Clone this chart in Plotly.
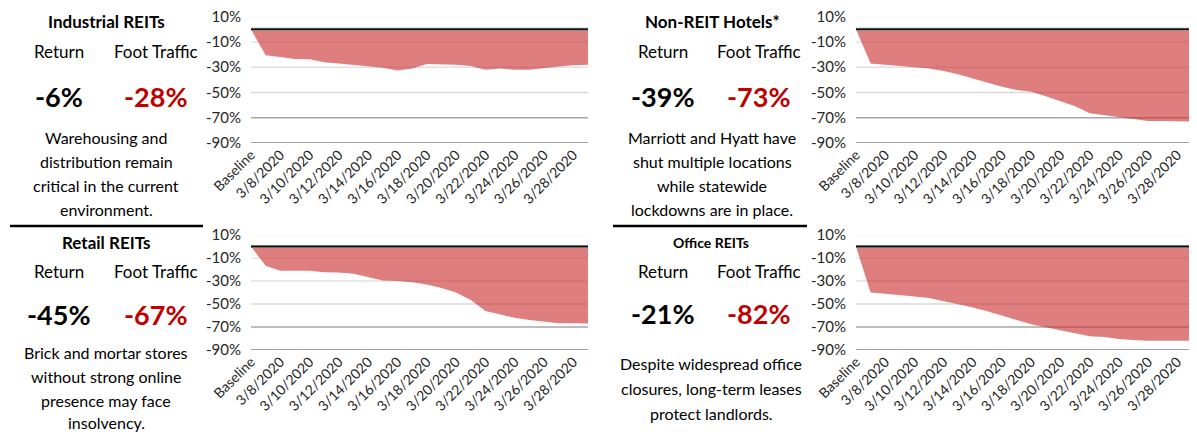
import plotly.graph_objects as go

# ---------------- data ----------------
dates = ["Baseline", "3/7/2020", "3/8/2020", "3/9/2020", "3/10/2020", "3/11/2020",
         "3/12/2020", "3/13/2020", "3/14/2020", "3/15/2020", "3/16/2020", "3/17/2020",
         "3/18/2020", "3/19/2020", "3/20/2020", "3/21/2020", "3/22/2020", "3/23/2020",
         "3/24/2020", "3/25/2020", "3/26/2020", "3/27/2020", "3/28/2020", "3/29/2020"]
tick_labels = ["Baseline", "3/8/2020", "3/10/2020", "3/12/2020", "3/14/2020", "3/16/2020",
               "3/18/2020", "3/20/2020", "3/22/2020", "3/24/2020", "3/26/2020", "3/28/2020"]

industrial = [0, -20.5, -22, -23.5, -23.7, -26, -27, -28, -29, -30.5, -32.6, -31,
              -27.5, -27.5, -28, -29, -32, -31, -32, -32, -30.5, -29.5, -28.4, -28]
hotels = [0, -27, -28, -29, -29.5, -31, -33, -35.5, -39, -42.5, -45.5, -48,
          -49.5, -53, -57, -61, -66.5, -68, -70, -71, -72.5, -72.5, -72.5, -73]
retail = [0, -16.7, -21, -21, -21, -22.4, -22.7, -23.8, -27, -29.6, -29.9, -31,
          -33, -36, -40, -46.5, -56, -59, -62, -64, -65.5, -66.7, -66.7, -67]
office = [0, -40, -41, -42, -43.4, -44.8, -47.4, -50, -53, -56.3, -60.3, -64,
          -67.5, -70, -73, -75.6, -78, -78.7, -80.5, -81.3, -82, -82, -82, -82]

y_ticks = [10, -10, -30, -50, -70, -90]

panels = [
    dict(title="Industrial REITs", ret="-6%", foot="-28%", series=industrial,
         desc=["Warehousing and", "distribution remain", "critical in the current", "environment."]),
    dict(title="Non-REIT Hotels*", ret="-39%", foot="-73%", series=hotels,
         desc=["Marriott and Hyatt have", "shut multiple locations", "while statewide", "lockdowns are in place."]),
    dict(title="Retail REITs", ret="-45%", foot="-67%", series=retail,
         desc=["Brick and mortar stores", "without strong online", "presence may face", "insolvency."]),
    dict(title="Office REITs", ret="-21%", foot="-82%", series=office,
         desc=["Despite widespread office", "closures, long-term leases", "protect landlords."]),
]

# ---------------- layout geometry (page pixels; page has 8px body margin) ----------------
OFF = 8
W, H = 1197 - OFF, 432 - OFF
FONT = "Lato"
RED = "#C00000"

def px_x(x):
    return (x - OFF) / W

def px_y(y):
    return 1 - (y - OFF) / H

plot_x = [(251, 588), (856, 1192), (251, 588), (856, 1192)]
plot_y = [(16.7, 143), (16.7, 143), (235, 350), (235, 350)]
text_cx = [(59, 156, 106), (663, 759, 712), (59, 156, 106), (663, 759, 711)]
title_y = [21, 21, 243, 242]
title_size = [17, 17, 17, 14]
head_y = [52, 52, 271, 271]
big_y = [97, 97, 314, 313]
desc_y = [[137, 161, 185, 210], [137, 161, 186, 210], [352, 376, 400, 422], [363, 388, 413]]

fig = go.Figure()
annotations = []
shapes = []
grid_colors = {10: "#f2f2f2", -10: "#e4e4e4", -30: "#e0e0e0", -50: "#d9d9d9", -70: "#a6a6a6", -90: "#808080"}

for i, p in enumerate(panels):
    n = i + 1
    xa = "x" if n == 1 else f"x{n}"
    ya = "y" if n == 1 else f"y{n}"
    fig.add_trace(go.Scatter(
        x=dates, y=p["series"], mode="lines", fill="tozeroy",
        fillcolor="rgba(200,40,40,0.6)", line=dict(width=0, color="rgba(200,40,40,0.6)"),
        xaxis=xa, yaxis=ya, showlegend=False, hoverinfo="x+y"))
    xkey = "xaxis" if n == 1 else f"xaxis{n}"
    ykey = "yaxis" if n == 1 else f"yaxis{n}"
    fig.update_layout(**{
        xkey: dict(domain=[px_x(plot_x[i][0]), px_x(plot_x[i][1])], anchor=ya,
                   type="category", categoryorder="array", categoryarray=dates,
                   range=[0, len(dates) - 1], tickmode="array", automargin=False,
                   tickvals=tick_labels, ticktext=tick_labels, tickangle=-45,
                   ticklabeloverflow="allow",
                   showgrid=False, zeroline=False, showline=False, ticks="",
                   tickfont=dict(family=FONT, size=14, color="#262626")),
        ykey: dict(domain=[px_y(plot_y[i][1]), px_y(plot_y[i][0])], anchor=xa,
                   range=[-90, 10], tickmode="array", tickvals=y_ticks, automargin=False,
                   ticktext=[f"{v}%" for v in y_ticks], showgrid=False,
                   ticklabeloverflow="allow",
                   zeroline=False, showline=False, ticks="", ticklabelstandoff=9,
                   tickfont=dict(family=FONT, size=15, color="#262626")),
    })
    xdom = "x domain" if n == 1 else f"x{n} domain"
    for v in y_ticks:
        shapes.append(dict(type="line", xref=xdom, yref=ya, x0=0, x1=1, y0=v, y1=v,
                           layer="below", line=dict(color=grid_colors[v], width=1.5)))
    shapes.append(dict(type="line", xref=xdom, yref=ya, x0=0, x1=1, y0=0, y1=0,
                       layer="above", line=dict(color="#8c8c8c", width=3)))
    shapes.append(dict(type="line", xref=xdom, yref=ya, x0=0, x1=1, y0=0, y1=0,
                       layer="above", line=dict(color="#111111", width=1.5)))

    cr, cf, cd = text_cx[i]
    def ann(x, y, text, size, color="#000000", bold=False):
        annotations.append(dict(
            x=px_x(x), y=px_y(y), xref="paper", yref="paper", xanchor="center",
            yanchor="middle", showarrow=False,
            text=f"<b>{text}</b>" if bold else text,
            font=dict(family=FONT, size=size, color=color)))
    ann(cd, title_y[i], p["title"], title_size[i], bold=True)
    ann(cr, head_y[i], "Return", 17)
    ann(cf, head_y[i], "Foot Traffic", 17)
    ann(cr, big_y[i], p["ret"], 27, bold=True)
    ann(cf, big_y[i], p["foot"], 27, color=RED, bold=True)
    for line, yy in zip(p["desc"], desc_y[i]):
        ann(cd, yy, line, 16)

# separator lines
shapes.append(dict(type="line", xref="paper", yref="paper", x0=px_x(10), x1=px_x(203),
                   y0=px_y(226), y1=px_y(226), line=dict(color="#000000", width=2.5)))
shapes.append(dict(type="line", xref="paper", yref="paper", x0=px_x(613), x1=px_x(807),
                   y0=px_y(226), y1=px_y(226), line=dict(color="#000000", width=2.5)))

fig.update_layout(
    width=W, height=H, margin=dict(l=0, r=0, t=0, b=0),
    paper_bgcolor="white", plot_bgcolor="white",
    annotations=annotations, shapes=shapes,
    font=dict(family=FONT),
)

fig.write_html("out.html")
